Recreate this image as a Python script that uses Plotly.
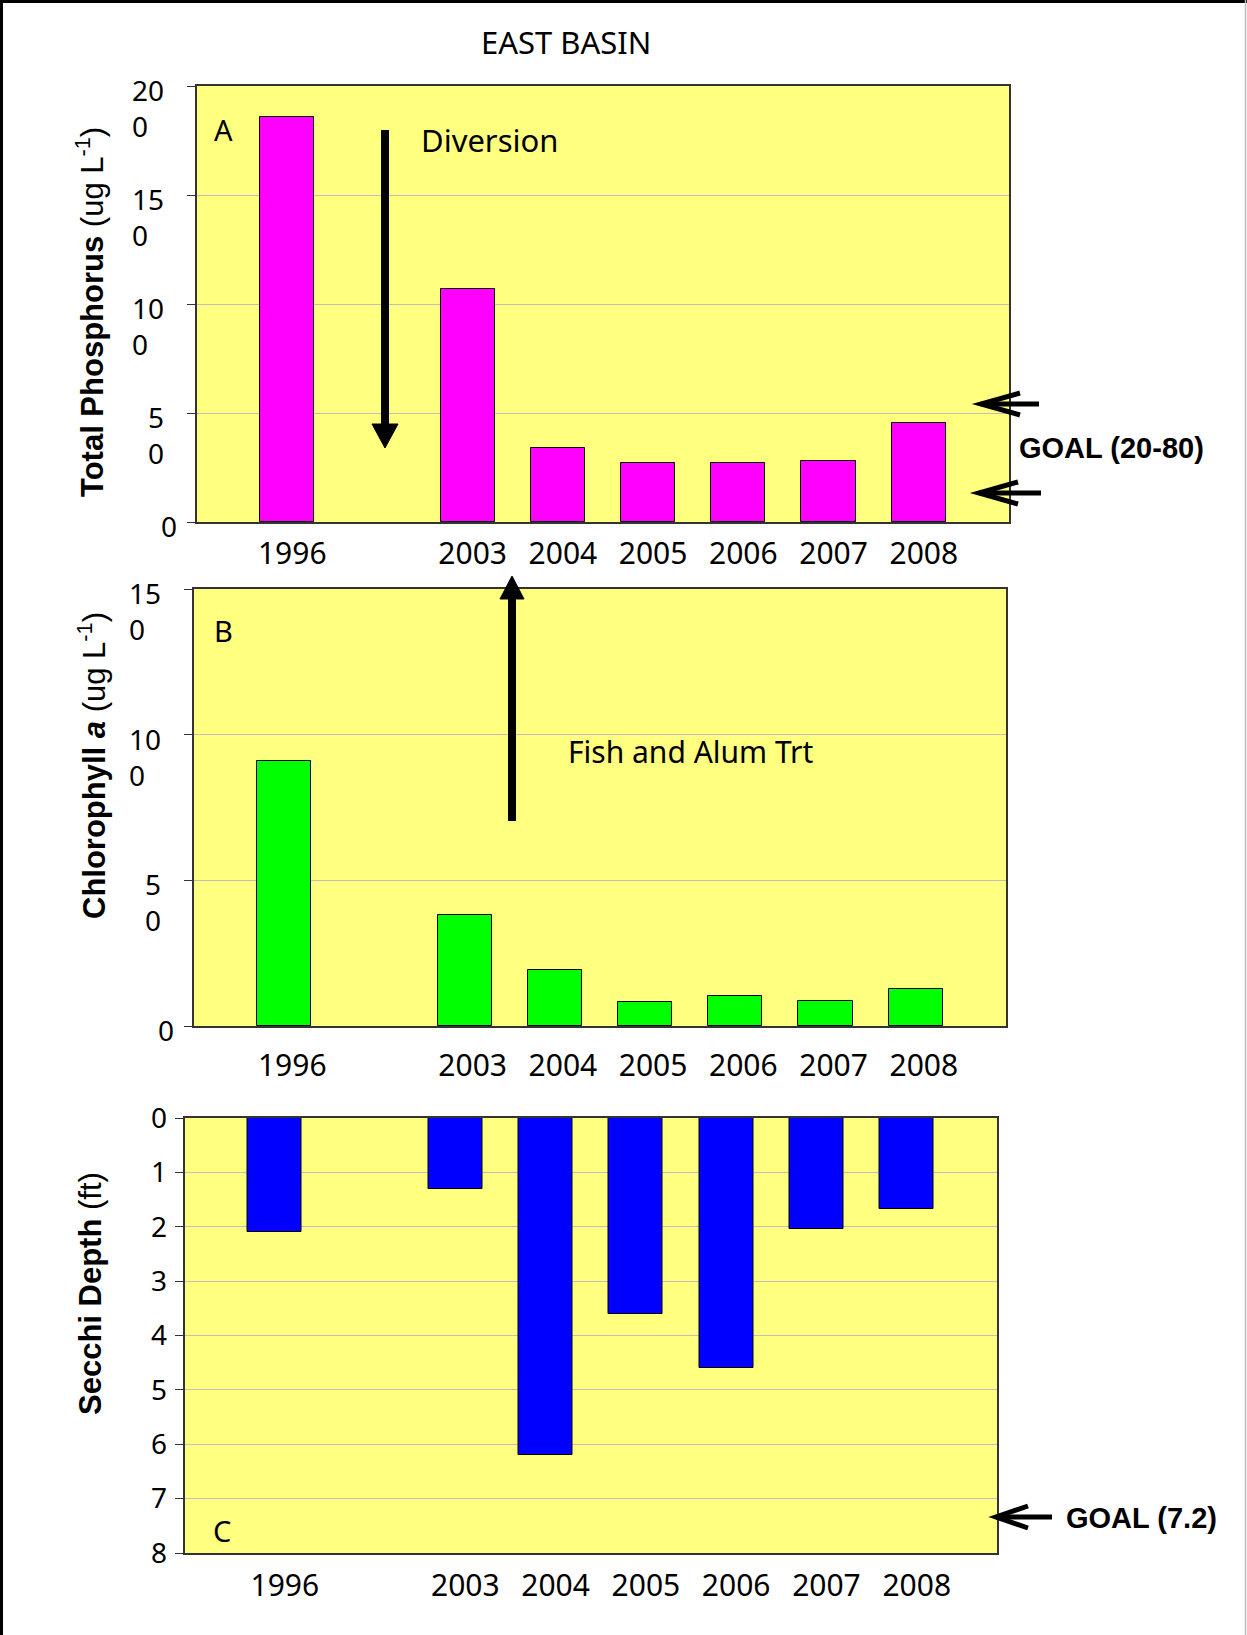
import plotly.graph_objects as go

# ---------------- data ----------------
years = ["1996", "2003", "2004", "2005", "2006", "2007", "2008"]
slot_order = ["1996", "", "2003", "2004", "2005", "2006", "2007", "2008"]  # blank slot = gap
total_p = [186, 107, 34, 27, 27, 28, 45.5]          # ug/L
chl_a = [91, 38, 19.3, 8.2, 10.4, 8.6, 12.8]        # ug/L
secchi = [2.1, 1.3, 6.2, 3.6, 4.6, 2.05, 1.67]      # ft

tp_ticks = [0, 50, 100, 150, 200]
tp_ticktext = ["0", "5<br>0", "10<br>0", "15<br>0", "20<br>0"]
chl_ticks = [0, 50, 100, 150]
chl_ticktext = ["0", "5<br>0", "10<br>0", "15<br>0"]
secchi_ticks = [0, 1, 2, 3, 4, 5, 6, 7, 8]

# ---------------- layout helpers ----------------
W, H = 1247, 1635


def px(x):
    return x / W


def py(y):
    return 1 - y / H


xpos = [slot_order.index(y) + 1 for y in years]

BG = "#FFFF80"
AXC = "#333333"
GRID = "#C0C0C0"
TICKFONT = dict(family="Noto Sans", size=28, color="black")
XTICKFONT = dict(family="Noto Sans", size=30, color="black")

fig = go.Figure()

fig.add_trace(go.Bar(x=xpos, y=total_p, width=0.6, xaxis="x", yaxis="y",
                     marker=dict(color="#FF00FF", line=dict(color="black", width=1)),
                     showlegend=False, hoverinfo="skip"))
fig.add_trace(go.Bar(x=xpos, y=chl_a, width=0.6, xaxis="x2", yaxis="y2",
                     marker=dict(color="#00FF00", line=dict(color="black", width=1)),
                     showlegend=False, hoverinfo="skip"))
fig.add_trace(go.Bar(x=xpos, y=secchi, width=0.6, xaxis="x3", yaxis="y3",
                     marker=dict(color="#0000FF", line=dict(color="black", width=1)),
                     showlegend=False, hoverinfo="skip"))


def xaxis(domain, anchor, standoff, shift):
    return dict(domain=domain, anchor=anchor, range=[0, 9], tickvals=xpos, ticktext=years,
                showgrid=False, zeroline=False, showline=True, mirror=True,
                linecolor=AXC, linewidth=1.5, ticks="", tickfont=XTICKFONT,
                ticklabelstandoff=standoff, ticklabelshift=shift, automargin=False,
                fixedrange=True)


def yaxis(domain, anchor, rng, tickvals, labels=True):
    return dict(domain=domain, anchor=anchor, range=rng, tickvals=tickvals,
                showticklabels=labels, ticks="outside", ticklen=8, tickcolor=AXC,
                tickwidth=1.2, showgrid=True, gridcolor=GRID, gridwidth=1.2,
                zeroline=False, showline=True, mirror=True, linecolor=AXC,
                linewidth=1.5, tickfont=TICKFONT, automargin=False, fixedrange=True,
                ticklabelstandoff=2)


dA_x, dA_y = [px(197), px(1009)], [py(522), py(86)]
dB_x, dB_y = [px(194), px(1006)], [py(1026), py(589)]
dC_x, dC_y = [px(184.5), px(997)], [py(1553), py(1118)]

fig.update_layout(
    width=W, height=H,
    margin=dict(l=0, r=0, t=0, b=0),
    paper_bgcolor="white",
    plot_bgcolor=BG,
    bargap=0,
    xaxis=xaxis(dA_x, "y", 4, 5),
    yaxis=yaxis(dA_y, "x", [0, 200], tp_ticks, labels=False),
    xaxis2=xaxis(dB_x, "y2", 12, 8),
    yaxis2=yaxis(dB_y, "x2", [0, 150], chl_ticks, labels=False),
    xaxis3=xaxis(dC_x, "y3", 5, 10),
    yaxis3=yaxis(dC_y, "x3", [8, 0], secchi_ticks, labels=True),
)

ann = []

# y tick labels for panels A and B (wrapped labels, as in the original)
for vals, texts, yref, left in [(tp_ticks, tp_ticktext, "y", dA_x[0]),
                                (chl_ticks, chl_ticktext, "y2", dB_x[0])]:
    for v, t in zip(vals, texts):
        ann.append(dict(xref="paper", yref=yref, x=left, y=v, text=t,
                        xanchor="right", yanchor="top", align="left",
                        xshift=-31 if "<br>" in t else -18, yshift=17,
                        showarrow=False, font=TICKFONT))

# axis titles
TITLEFONT = dict(family="Liberation Sans", size=31, color="black")
ann.append(dict(xref="paper", yref="paper", x=px(90), y=py(312),
                text="<b>Total Phosphorus</b> (ug L<sup>-1</sup>)", textangle=-90,
                showarrow=False, font=TITLEFONT, xanchor="center", yanchor="middle"))
ann.append(dict(xref="paper", yref="paper", x=px(92), y=py(766),
                text="<b>Chlorophyll <i>a</i></b> (ug L<sup>-1</sup>)", textangle=-90,
                showarrow=False, font=TITLEFONT, xanchor="center", yanchor="middle"))
ann.append(dict(xref="paper", yref="paper", x=px(90), y=py(1294),
                text="<b>Secchi Depth</b> (ft)", textangle=-90,
                showarrow=False, font=TITLEFONT, xanchor="center", yanchor="middle"))

# title and panel letters
ann.append(dict(xref="paper", yref="paper", x=px(566), y=py(42), text="EAST BASIN",
                xanchor="center", yanchor="middle", showarrow=False,
                font=dict(family="Noto Sans", size=31, color="black")))
LETTER = dict(family="Noto Sans", size=29, color="black")
for letter, (lx, ly) in zip(["A", "B", "C"], [(223, 129), (223, 630), (222, 1530)]):
    ann.append(dict(xref="paper", yref="paper", x=px(lx), y=py(ly), text=letter,
                    xanchor="center", yanchor="middle", showarrow=False, font=LETTER))

# notes
ann.append(dict(xref="paper", yref="paper", x=px(419), y=py(140), text="Diversion",
                xanchor="left", yanchor="middle", showarrow=False,
                font=dict(family="Noto Sans", size=31, color="black")))
ann.append(dict(xref="paper", yref="paper", x=px(566), y=py(751), text="Fish and Alum Trt",
                xanchor="left", yanchor="middle", showarrow=False,
                font=dict(family="Noto Sans", size=30, color="black")))
GOALFONT = dict(family="Liberation Sans", size=29, color="black")
ann.append(dict(xref="paper", yref="paper", x=px(1017), y=py(448), text="<b>GOAL (20-80)</b>",
                xanchor="left", yanchor="middle", showarrow=False, font=GOALFONT))
ann.append(dict(xref="paper", yref="paper", x=px(1064), y=py(1518), text="<b>GOAL (7.2)</b>",
                xanchor="left", yanchor="middle", showarrow=False, font=GOALFONT))

fig.update_layout(annotations=ann)


def path(points, close=False):
    s = "M " + " L ".join(f"{px(a):.5f},{py(b):.5f}" for a, b in points)
    return s + (" Z" if close else "")


shapes = []
# outer frame
shapes.append(dict(type="line", xref="paper", yref="paper", x0=px(1.5), x1=px(1.5),
                   y0=0, y1=1, line=dict(color="black", width=3)))
shapes.append(dict(type="line", xref="paper", yref="paper", x0=0, x1=1,
                   y0=py(1.5), y1=py(1.5), line=dict(color="black", width=3)))
shapes.append(dict(type="line", xref="paper", yref="paper", x0=px(1245.5), x1=px(1245.5),
                   y0=0, y1=1, line=dict(color="#BBBBBB", width=1.5)))

# Diversion arrow (down)
shapes.append(dict(type="path", xref="paper", yref="paper",
                   path=path([(385, 130), (385, 428)]), line=dict(color="black", width=8)))
shapes.append(dict(type="path", xref="paper", yref="paper",
                   path=path([(372, 424), (398, 424), (385, 448)], close=True),
                   fillcolor="black", line=dict(color="black", width=1)))
# Fish and Alum arrow (up)
shapes.append(dict(type="path", xref="paper", yref="paper",
                   path=path([(512, 821), (512, 596)]), line=dict(color="black", width=8)))
shapes.append(dict(type="path", xref="paper", yref="paper",
                   path=path([(500, 599), (524, 599), (512, 576)], close=True),
                   fillcolor="black", line=dict(color="black", width=1)))


def goal_arrow(tip_x, tip_y, tail_x, leg_x, half):
    return [
        dict(type="path", xref="paper", yref="paper",
             path=path([(tail_x, tip_y), (tip_x, tip_y)]), line=dict(color="black", width=5)),
        dict(type="path", xref="paper", yref="paper",
             path=path([(leg_x, tip_y - half), (tip_x, tip_y), (leg_x, tip_y + half)]),
             line=dict(color="black", width=5)),
    ]


shapes += goal_arrow(981, 404, 1039, 1020, 11)
shapes += goal_arrow(979, 493, 1041, 1018, 11)
shapes += goal_arrow(996, 1517, 1052, 1028, 11)

fig.update_layout(shapes=shapes)

fig.write_html("out.html", config={"displayModeBar": False},
               post_script="document.body.style.margin='0px';")
